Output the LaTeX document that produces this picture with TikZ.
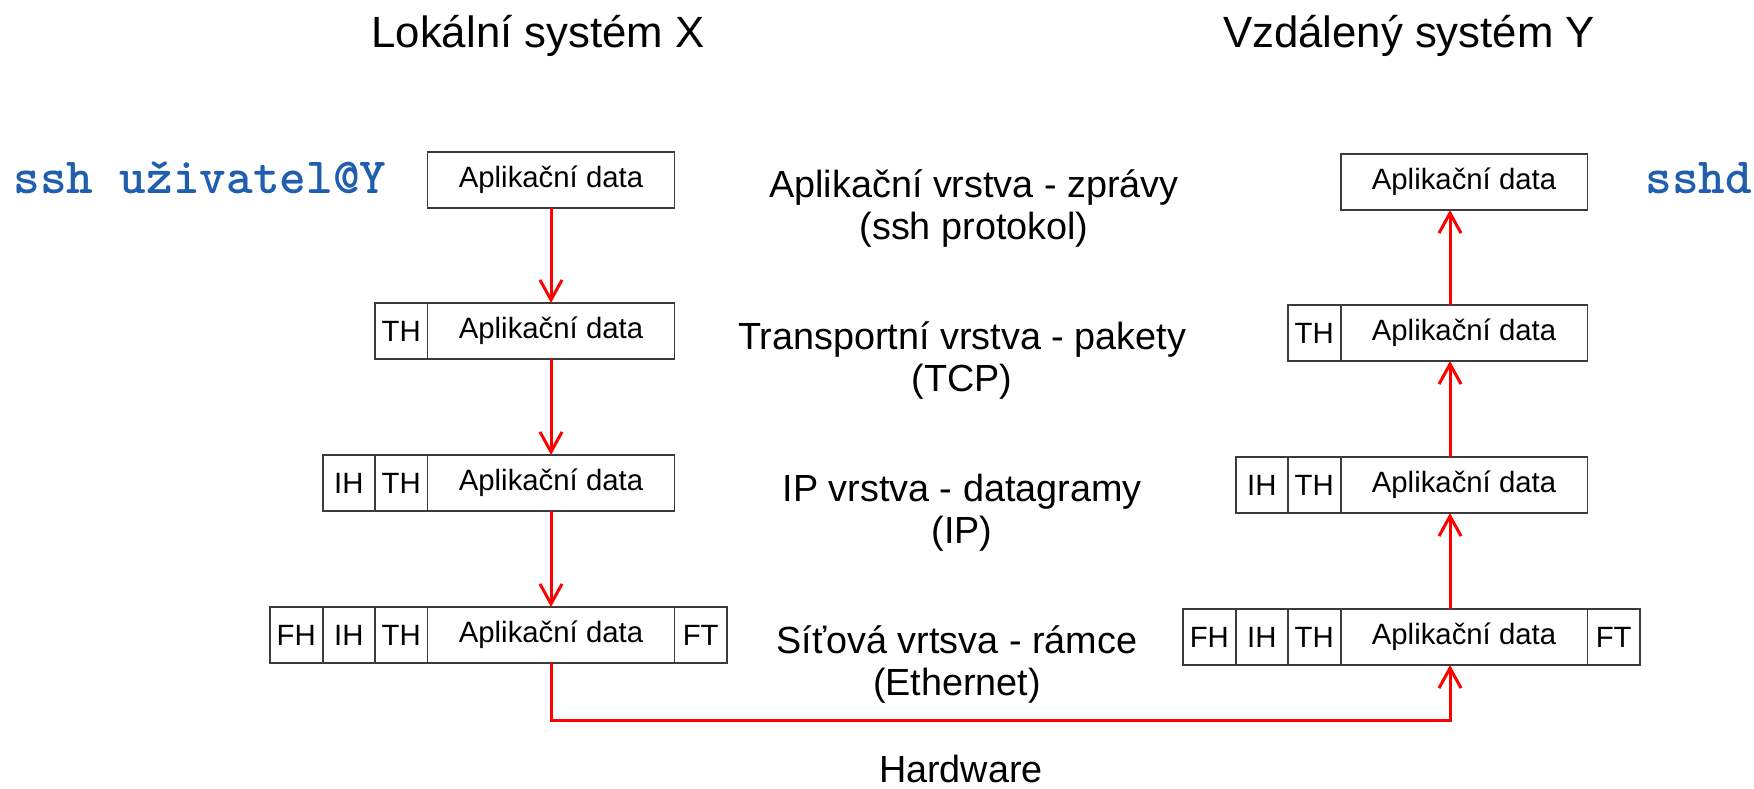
\documentclass[tikz,border=0pt]{standalone}
\usepackage{fontspec}
\setmainfont{Liberation Sans}
\usepackage{xcolor}
\usetikzlibrary{arrows.meta,positioning,calc}

\definecolor{cmdblue}{HTML}{1F5FAD}
\definecolor{boxline}{HTML}{3C3C3C}

\begin{document}
\begin{tikzpicture}[
  x=0.02cm, y=-0.02cm,
  cell/.style={draw=boxline, line width=1.1pt, minimum height=1.12cm,
               inner sep=0pt, outer sep=0pt, font=\fontsize{16.7}{18}\selectfont},
  hdr/.style={cell, minimum width=1.05cm},
  data/.style={cell, minimum width=4.94cm},
  ar/.style={-{Straight Barb[length=0.4cm, width=0.44cm]}, red, line width=1.7pt},
  title/.style={font=\fontsize{24.9}{28}\selectfont, anchor=base},
  layer/.style={font=\fontsize{21.5}{24}\selectfont, anchor=base},
  cmd/.style={font=\ttfamily\bfseries\fontsize{28.9}{30}\selectfont, text=cmdblue,
              anchor=base west, inner sep=0pt}
]
\useasboundingbox (0,0) rectangle (1754,788);

% headings
\node[title] (locx) at (538,47) {Lokální systém X};
\node[title] (remy) at (1409,47) {Vzdálený systém Y};
\node[cmd] (cli) at (13,193) {ssh uživatel@Y};
\node[cmd] (srv) at (1645,193) {sshd};

% layers in the middle
\node[layer] (app) at (974,197) {Aplikační vrstva - zprávy};
\node[layer] (appb) at (974,239) {(ssh protokol)};
\node[layer] (tra) at (962,349) {Transportní vrstva - pakety};
\node[layer] (trab) at (962,391) {(TCP)};
\node[layer] (ipl) at (962,501) {IP vrstva - datagramy};
\node[layer] (iplb) at (962,543) {(IP)};
\node[layer] (net) at (957,653) {Síťová vrtsva - rámce};
\node[layer] (netb) at (957,695) {(Ethernet)};
\node[layer] (hw) at (961,782) {Hardware};

% local system X
\node[data] (l1) at (551,180) {Aplikační data};
\node[data] (l2d) at (551,331) {Aplikační data};
\node[hdr, left=0pt of l2d] (l2t) {TH};
\node[data] (l3d) at (551,483) {Aplikační data};
\node[hdr, left=0pt of l3d] (l3t) {TH};
\node[hdr, left=0pt of l3t] (l3i) {IH};
\node[data] (l4d) at (551,635) {Aplikační data};
\node[hdr, left=0pt of l4d] (l4t) {TH};
\node[hdr, left=0pt of l4t] (l4i) {IH};
\node[hdr, left=0pt of l4i] (l4f) {FH};
\node[hdr, right=0pt of l4d] (l4e) {FT};

% remote system Y
\node[data] (r1) at (1464,182) {Aplikační data};
\node[data] (r2d) at (1464,333) {Aplikační data};
\node[hdr, left=0pt of r2d] (r2t) {TH};
\node[data] (r3d) at (1464,485) {Aplikační data};
\node[hdr, left=0pt of r3d] (r3t) {TH};
\node[hdr, left=0pt of r3t] (r3i) {IH};
\node[data] (r4d) at (1464,637) {Aplikační data};
\node[hdr, left=0pt of r4d] (r4t) {TH};
\node[hdr, left=0pt of r4t] (r4i) {IH};
\node[hdr, left=0pt of r4i] (r4f) {FH};
\node[hdr, right=0pt of r4d] (r4e) {FT};

% down the stack
\draw[ar] (l1) -- (l2d);
\draw[ar] (l2d) -- (l3d);
\draw[ar] (l3d) -- (l4d);

% over the wire
\coordinate (rx) at (1450,0);
\coordinate (bus) at (1000,720);
\draw[ar] (l4d.south) |- (bus) -| (r4d.south -| rx);

% up the stack
\draw[ar] (r4d.north -| rx) -- (r3d.south -| rx);
\draw[ar] (r3d.north -| rx) -- (r2d.south -| rx);
\draw[ar] (r2d.north -| rx) -- (r1.south -| rx);
\end{tikzpicture}
\end{document}
